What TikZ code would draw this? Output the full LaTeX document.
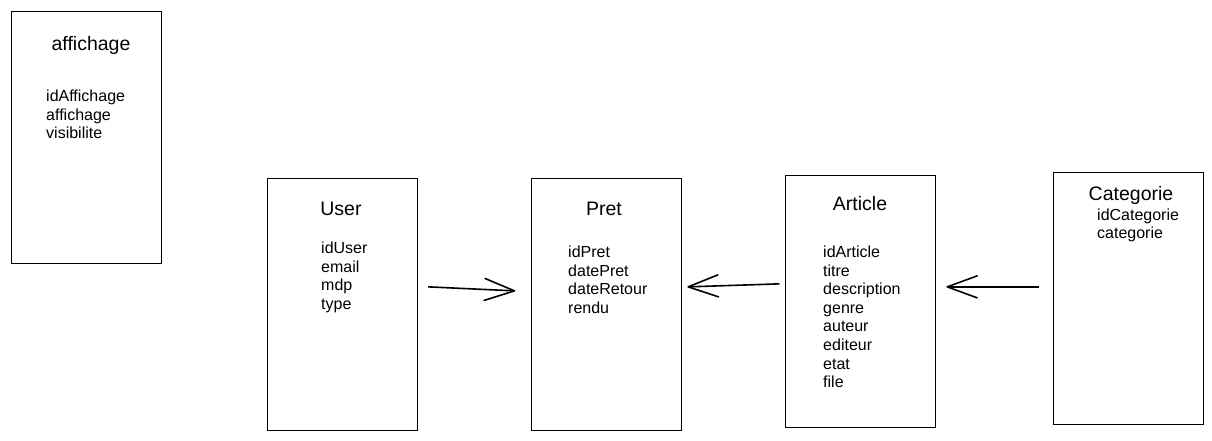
\documentclass[tikz,border=0pt]{standalone}
\usepackage{fontspec}
\setmainfont{Liberation Sans}
\usetikzlibrary{arrows.meta}

% plain open "V" head made of two straight strokes
\pgfdeclarearrow{
  name = OpenVee,
  defaults = {length = 30pt, width = 22pt},
  setup code = {
    \pgfarrowssettipend{0pt}
    \pgfarrowssetlineend{-0.5\pgflinewidth}
    \pgfarrowssetbackend{-\pgfarrowlength}
    \pgfarrowshullpoint{0pt}{0pt}
    \pgfarrowshullpoint{-\pgfarrowlength}{.5\pgfarrowwidth}
    \pgfarrowshullpoint{-\pgfarrowlength}{-.5\pgfarrowwidth}
    \pgfarrowssavethe\pgfarrowlength
    \pgfarrowssavethe\pgfarrowwidth
  },
  drawing code = {
    \pgfsetdash{}{0pt}
    \pgfsetroundcap
    \pgfsetroundjoin
    \pgfpathmoveto{\pgfqpoint{-\pgfarrowlength}{.5\pgfarrowwidth}}
    \pgfpathlineto{\pgfpointorigin}
    \pgfpathlineto{\pgfqpoint{-\pgfarrowlength}{-.5\pgfarrowwidth}}
    \pgfusepathqstroke
  },
  parameters = {\the\pgfarrowlength,\the\pgfarrowwidth},
}

\begin{document}
\begin{tikzpicture}[x=1pt,y=-1pt,
  entity/.style={draw,line width=1.7pt,minimum width=150pt,minimum height=252pt,inner sep=0pt,anchor=north west},
  title/.style={font=\fontsize{19.5}{22}\selectfont,anchor=base,inner sep=0pt},
  field/.style={font=\fontsize{16}{18.6}\selectfont,anchor=base west,inner sep=0pt},
  link/.style={line width=1.6pt,-{OpenVee[length=30pt,width=22pt]}}]
\useasboundingbox (0,0) rectangle (1212,440);

% entity boxes
\node[entity] (affichage) at (10.5,10.5) {};
\node[entity] (user) at (266.5,177.5) {};
\node[entity] (pret) at (530.5,177.5) {};
\node[entity] (article) at (784.5,174.5) {};
\node[entity] (categorie) at (1052.5,171.5) {};

% titles
\node[title] (affichage-t) at (91,50) {affichage};
\node[title] (user-t) at (341,215) {User};
\node[title] (pret-t) at (604,215) {Pret};
\node[title] (article-t) at (860,210) {Article};
\node[title] (categorie-t) at (1131,200) {Categorie};

% attribute lists
\foreach \txt [count=\i from 0] in {idAffichage,affichage,visibilite}
  \node[field] (affichage-f\i) at (46,101.5+18.6*\i) {\txt};
\foreach \txt [count=\i from 0] in {idUser,email,mdp,type}
  \node[field] (user-f\i) at (321,253.5+18.6*\i) {\txt};
\foreach \txt [count=\i from 0] in {idPret,datePret,dateRetour,rendu}
  \node[field] (pret-f\i) at (568,257.5+18.6*\i) {\txt};
\foreach \txt [count=\i from 0] in {idArticle,titre,description,genre,auteur,editeur,etat,file}
  \node[field] (article-f\i) at (823,257.5+18.6*\i) {\txt};
\foreach \txt [count=\i from 0] in {idCategorie,categorie}
  \node[field] (categorie-f\i) at (1097,220+18.6*\i) {\txt};

% associations
\draw[link] ([shift={(10,-17.5)}]user.east) -- ([shift={(-16,-13.5)}]pret.west);
\draw[link] ([shift={(-5,-17.5)}]article.west) -- ([shift={(6,-17.5)}]pret.east);
\draw[link] ([shift={(-14,-11.5)}]categorie.west) -- ([shift={(11,-14.5)}]article.east);
\end{tikzpicture}
\end{document}
